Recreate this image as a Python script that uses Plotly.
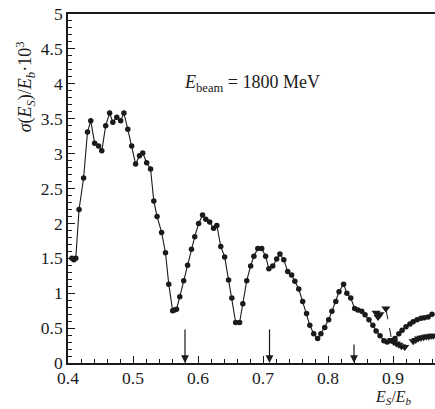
import plotly.graph_objects as go

# Measured relative energy spread versus scattered-photon energy fraction
es_ratio = [0.406, 0.409, 0.412, 0.417, 0.424, 0.430, 0.435, 0.441, 0.447, 0.452,
            0.458, 0.464, 0.469, 0.475, 0.481, 0.486, 0.492, 0.498, 0.504, 0.510,
            0.515, 0.521, 0.527, 0.532, 0.537, 0.544, 0.550, 0.555, 0.561, 0.564,
            0.567, 0.572, 0.578, 0.584, 0.590, 0.595, 0.601, 0.607, 0.612, 0.618,
            0.624, 0.629, 0.635, 0.641, 0.647, 0.652, 0.658, 0.664, 0.669, 0.675,
            0.681, 0.686, 0.692, 0.698, 0.704, 0.709, 0.715, 0.721, 0.726, 0.732,
            0.738, 0.744, 0.749, 0.755, 0.761, 0.767, 0.772, 0.778, 0.784, 0.789,
            0.795, 0.801, 0.806, 0.812, 0.817, 0.824, 0.829, 0.835, 0.841, 0.846,
            0.852, 0.857, 0.863, 0.869, 0.874, 0.880, 0.886, 0.891, 0.897, 0.903,
            0.909, 0.914, 0.920, 0.926, 0.931, 0.937, 0.943, 0.948, 0.954, 0.960]
sigma = [1.50, 1.48, 1.50, 2.20, 2.65, 3.31, 3.47, 3.15, 3.11, 3.04,
         3.40, 3.58, 3.45, 3.52, 3.47, 3.58, 3.35, 3.11, 2.85, 2.97,
         3.01, 2.87, 2.78, 2.32, 2.10, 1.87, 1.58, 1.13, 0.75, 0.76,
         0.77, 0.95, 1.18, 1.40, 1.63, 1.81, 2.00, 2.12, 2.06, 2.02,
         1.93, 1.97, 1.67, 1.52, 1.19, 0.93, 0.58, 0.58, 0.85, 1.18,
         1.39, 1.53, 1.64, 1.64, 1.53, 1.35, 1.39, 1.49, 1.56, 1.48,
         1.31, 1.26, 1.17, 1.06, 0.88, 0.71, 0.54, 0.42, 0.35, 0.42,
         0.51, 0.62, 0.74, 0.88, 1.02, 1.13, 1.00, 0.93, 0.78, 0.76,
         0.74, 0.69, 0.62, 0.54, 0.46, 0.39, 0.32, 0.30, 0.32, 0.35,
         0.42, 0.47, 0.52, 0.56, 0.59, 0.62, 0.64, 0.65, 0.66, 0.70]

# Second data set near the upper edge
tri_ratio = [0.874, 0.877, 0.880, 0.889, 0.898, 0.901, 0.905, 0.909, 0.913, 0.918,
             0.931, 0.935, 0.939, 0.943, 0.947, 0.951, 0.955, 0.959, 0.962]
tri_sigma = [0.72, 0.66, 0.70, 0.78, 0.33, 0.30, 0.28, 0.26, 0.24, 0.23,
             0.31, 0.33, 0.35, 0.36, 0.37, 0.38, 0.38, 0.39, 0.39]

# Arrow positions on the energy axis
arrow_x = [0.58, 0.71, 0.84]
arrow_len = [35, 35, 20]

x_ticks = [0.4, 0.5, 0.6, 0.7, 0.8, 0.9]
y_ticks = [0, 0.5, 1, 1.5, 2, 2.5, 3, 3.5, 4, 4.5, 5]

SERIF = "Liberation Serif"
INK = "#1a1a1a"

fig = go.Figure()
fig.add_trace(go.Scatter(
    x=tri_ratio, y=tri_sigma, mode="lines+markers",
    line=dict(color=INK, width=1, dash="dash"),
    marker=dict(symbol="triangle-down", size=8, color=INK),
))
fig.add_trace(go.Scatter(
    x=es_ratio, y=sigma, mode="lines+markers",
    line=dict(color=INK, width=1.1),
    marker=dict(symbol="circle", size=5.5, color=INK),
))

for ax_x, ln in zip(arrow_x, arrow_len):
    fig.add_annotation(
        x=ax_x, y=0, xref="x", yref="y", text="", showarrow=True,
        ax=0, ay=-ln, arrowhead=2, arrowsize=1.3, arrowwidth=1.2,
        arrowcolor=INK, standoff=0, startstandoff=0,
    )

fig.add_annotation(
    x=0.683, y=4.01, xref="x", yref="y", showarrow=False,
    xanchor="center", yanchor="middle",
    text="<i>E</i><sub>beam</sub> = 1800 MeV",
    font=dict(family=SERIF, size=18, color=INK),
)
fig.add_annotation(
    x=0.9, y=-0.066, xref="x", yref="paper", showarrow=False,
    xanchor="center", yanchor="top",
    text="<i>E<sub>S</sub></i>/<i>E<sub>b</sub></i>",
    font=dict(family=SERIF, size=16, color=INK),
)
fig.add_annotation(
    x=-0.117, y=0.79, xref="paper", yref="paper", showarrow=False,
    xanchor="center", yanchor="middle", textangle=-90,
    text="<i>σ</i>(<i>E<sub>S</sub></i>)/<i>E<sub>b</sub></i>·10<sup>3</sup>",
    font=dict(family=SERIF, size=18, color=INK),
)

fig.update_xaxes(
    range=[0.4, 0.9646], tickvals=x_ticks, ticktext=[str(v) for v in x_ticks],
    ticks="inside", ticklen=7, tickwidth=1.2, tickcolor=INK,
    ticklabelstandoff=-2,
    minor=dict(dtick=0.02, tick0=0.4, ticks="inside", ticklen=4, tickwidth=1, tickcolor=INK),
    showline=True, linewidth=1.6, linecolor=INK, mirror=True,
    showgrid=False, zeroline=False,
    tickfont=dict(family=SERIF, size=17.5, color=INK),
)
fig.update_yaxes(
    range=[0, 5], tickvals=y_ticks, ticktext=[f"{v:g}" for v in y_ticks],
    ticks="inside", ticklen=7, tickwidth=1.2, tickcolor=INK,
    minor=dict(dtick=0.1, tick0=0, ticks="inside", ticklen=4, tickwidth=1, tickcolor=INK),
    showline=True, linewidth=1.6, linecolor=INK,
    showgrid=False, zeroline=False,
    tickfont=dict(family=SERIF, size=17.5, color=INK),
)

fig.update_layout(
    width=435, height=409,
    margin=dict(l=68, r=0, t=14, b=46),
    plot_bgcolor="white", paper_bgcolor="white",
    showlegend=False,
)

fig.write_html("out.html")
